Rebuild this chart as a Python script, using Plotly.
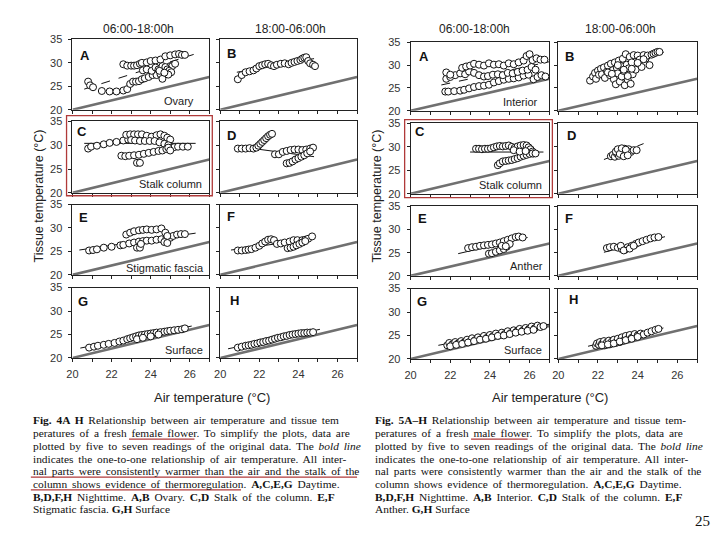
import plotly.graph_objects as go

# ---------------- values ----------------
AIR_TICKS = [20, 21, 22, 23, 24, 25, 26, 27]
AIR_TICK_LABELS = ["20", "", "22", "", "24", "", "26", ""]
TISSUE_TICKS = [20, 25, 30, 35]
TISSUE_TICK_LABELS = ["20", "25", "30", "35"]
ONE_TO_ONE_X = [20, 27]
ONE_TO_ONE_Y = [20, 27]

# Fig. 4 (female flower)
F_A_x = [20.8, 20.9, 21.05, 21.5, 21.9, 22.25, 22.6, 22.8, 22.95, 23.1, 23.25, 23.4, 23.55, 23.7, 23.9, 24.1, 24.3, 24.5, 24.6, 24.75, 24.9, 25.0, 25.1,
         22.6, 22.8, 23.0, 23.15, 23.3, 23.45, 23.55, 23.8, 24.0, 24.25, 24.5, 24.75, 25.0, 25.25, 25.45, 25.6, 25.75,
         23.6, 23.8, 24.05, 24.25, 24.4, 24.6, 24.75, 24.85, 24.95, 25.05, 24.45, 25.25, 24.9, 24.7]
F_A_y = [26.0, 25.2, 24.8, 24.0, 23.9, 23.9, 24.1, 24.4, 25.5, 26.0, 26.0, 26.1, 26.5, 26.7, 27.0, 27.4, 27.4, 27.6, 26.6, 28.3, 28.6, 29.3, 29.3,
         29.7, 29.4, 29.4, 29.4, 29.5, 29.8, 30.0, 30.1, 30.4, 30.5, 30.7, 31.4, 31.6, 31.8, 31.9, 31.7, 31.7,
         28.4, 28.6, 28.3, 29.0, 28.6, 29.3, 29.1, 28.6, 28.3, 28.0, 28.3, 29.8, 27.5, 27.9]
F_A_fit_x = [20.6, 26.2]
F_A_fit_y = [24.4, 31.8]

F_B_x = [20.9, 21.1, 21.3, 21.5, 21.7, 21.85, 22.0, 22.15, 22.3, 22.45, 22.6, 22.75, 22.9, 23.1, 23.3, 23.5, 23.65, 23.8, 23.95, 24.1, 24.2, 24.3, 24.4, 24.5, 24.6, 24.75, 24.85]
F_B_y = [26.5, 27.4, 28.0, 28.2, 28.4, 28.8, 29.3, 29.5, 29.7, 29.8, 29.5, 29.3, 29.6, 29.8, 29.9, 29.7, 30.0, 30.2, 30.4, 30.6, 30.9, 31.1, 31.2, 30.4, 29.9, 29.6, 29.3]
F_B_fit_x = [20.85, 24.8]
F_B_fit_y = [28.0, 30.9]

F_C_x = [20.8, 20.95, 21.25, 21.6, 21.9, 22.25, 22.6, 22.85,
         22.75, 22.95, 23.15, 23.35, 23.55, 23.8, 24.05, 24.3, 24.5, 24.7, 24.85, 25.0,
         23.0, 23.2, 23.45, 23.7, 23.95, 24.2, 24.45, 24.7, 24.9,
         22.5, 22.7, 22.9, 23.15, 23.4, 23.65, 23.9, 24.15, 24.4, 24.6, 24.8, 25.0, 25.2, 25.4, 25.65, 25.9,
         23.3, 23.45, 24.9, 25.0]
F_C_y = [29.3, 29.7, 29.9, 30.2, 30.5, 30.7, 31.0, 31.2,
         32.2, 32.3, 32.3, 32.3, 32.3, 32.0, 31.8, 32.1, 32.3, 32.0, 31.6, 31.2,
         31.1, 31.0, 30.9, 30.9, 30.9, 30.9, 30.6, 30.3, 30.0,
         27.8, 27.7, 27.8, 27.9, 28.0, 28.2, 28.4, 28.6, 28.8, 28.9, 29.2, 29.4, 29.6, 29.7, 29.7, 29.7,
         26.3, 26.3, 29.5, 28.9]
F_C_fit_x = [20.6, 26.3]
F_C_fit_y = [30.4, 30.4]

F_D_x = [20.9, 21.1, 21.3, 21.5, 21.7, 21.85, 21.95, 22.05, 22.15, 22.25, 22.35, 22.45, 22.55, 22.65,
         22.8, 23.0, 23.2, 23.4, 23.6, 23.8, 24.0, 24.2, 24.4, 24.6, 24.75,
         23.4, 23.55, 23.7, 23.85, 24.0, 24.15, 24.3, 24.45, 24.6]
F_D_y = [29.3, 29.3, 29.3, 29.4, 29.3, 29.5, 29.9, 30.3, 30.7, 31.1, 31.5, 31.9, 32.2, 32.4,
         28.1, 28.1, 28.6, 28.8, 29.0, 29.1, 29.1, 29.0, 29.1, 29.3, 29.5,
         26.2, 26.3, 26.6, 27.0, 27.3, 27.6, 27.9, 28.3, 28.7]
F_D_fit_x = [20.8, 24.8]
F_D_fit_y = [29.8, 27.6]

F_E_x = [20.85, 21.05, 21.25, 21.6, 22.0, 22.45, 22.6, 22.9, 23.15, 23.4, 23.6, 23.8, 24.05, 24.3, 24.55, 24.8, 25.0, 25.15, 25.35, 25.55, 25.75,
         22.75, 22.95, 23.15, 23.4, 23.6, 23.8, 24.05, 24.3, 24.55, 24.75, 24.85,
         23.3, 23.45, 23.5, 24.7, 24.85]
F_E_y = [25.2, 25.3, 25.45, 25.8, 26.0, 26.3, 26.4, 26.7, 26.9, 27.1, 27.2, 27.3, 27.3, 27.5, 27.6, 27.7, 27.9, 28.3, 28.6, 28.7, 28.7,
         28.6, 29.0, 29.3, 29.5, 29.6, 29.7, 29.6, 29.7, 29.9, 29.0, 28.3,
         25.8, 25.8, 26.6, 27.0, 26.8]
F_E_fit_x = [20.35, 26.3]
F_E_fit_y = [25.3, 28.9]

F_F_x = [20.9, 21.1, 21.3, 21.45, 21.6, 21.8, 22.0, 22.15, 22.3, 22.45, 22.6, 22.75, 22.9, 23.1, 23.3, 23.55, 23.75, 23.95, 24.2, 24.35, 24.5, 24.7,
         23.45, 23.6, 23.75, 23.9, 24.05, 24.2, 24.35]
F_F_y = [25.2, 25.2, 25.3, 25.4, 25.5, 25.8, 26.2, 26.7, 27.1, 27.5, 27.6, 27.4, 26.6, 26.7, 26.9, 27.1, 27.4, 27.4, 27.4, 27.5, 27.7, 28.2,
         25.7, 25.8, 26.0, 26.3, 26.6, 26.9, 27.2]
F_F_fit_x = [20.55, 24.75]
F_F_fit_y = [25.3, 27.7]

F_G_x = [20.85, 21.1, 21.3, 21.6, 21.85, 22.15, 22.4, 22.6, 22.8, 22.95, 23.1, 23.25, 23.4, 23.55, 23.7, 23.85, 24.0, 24.15, 24.3, 24.5, 24.7, 24.85, 25.0, 25.2, 25.4, 25.6, 25.75, 23.3, 23.6, 24.0, 24.4]
F_G_y = [22.2, 22.4, 22.6, 22.8, 23.0, 23.2, 23.5, 23.7, 24.0, 24.2, 24.4, 24.6, 24.8, 24.9, 25.0, 25.1, 25.2, 25.3, 25.4, 25.5, 25.6, 25.7, 25.8, 25.9, 26.0, 26.1, 26.3, 24.0, 24.3, 24.6, 25.0]
F_G_fit_x = [20.4, 26.1]
F_G_fit_y = [22.1, 26.8]

F_H_x = [20.9, 21.1, 21.3, 21.45, 21.6, 21.75, 21.9, 22.05, 22.2, 22.35, 22.5, 22.65, 22.8, 22.95, 23.1, 23.25, 23.4, 23.55, 23.7, 23.85, 24.0, 24.15, 24.3, 24.45, 24.6, 24.75]
F_H_y = [22.2, 22.4, 22.6, 22.7, 22.8, 23.0, 23.1, 23.3, 23.4, 23.6, 23.7, 23.9, 24.1, 24.3, 24.4, 24.6, 24.7, 24.9, 25.0, 25.1, 25.2, 25.3, 25.3, 25.4, 25.4, 25.5]
F_H_fit_x = [20.4, 25.1]
F_H_fit_y = [21.95, 26.1]

# Fig. 5 (male flower)
M_A_x = [21.75, 21.9, 22.2, 22.5, 22.7, 22.95, 23.2, 23.45, 23.7, 23.95, 24.2, 24.45, 24.7, 24.95, 25.2, 25.45, 25.7, 25.95, 26.2, 26.4, 26.6, 26.8,
         21.8, 22.0, 22.25, 22.5, 22.75, 22.95, 23.2, 23.45, 23.7, 23.9, 24.15, 24.4, 24.65, 24.9, 25.15, 25.4, 25.65, 25.9, 26.1, 26.3,
         21.8, 22.0, 22.6, 22.8, 23.0, 23.2, 23.45, 23.7, 23.95, 24.2, 24.45, 24.7, 24.95, 25.2, 25.45, 25.7, 25.85, 26.0, 26.15, 26.35, 26.55, 26.75]
M_A_y = [24.2, 24.2, 24.3, 24.4, 24.6, 24.9, 25.2, 25.4, 25.5, 25.7, 26.2, 26.5, 26.8, 27.0, 27.1, 27.3, 27.7, 27.9, 26.9, 27.4, 27.8, 27.5,
         27.0, 27.4, 27.8, 28.2, 28.0, 28.6, 28.3, 27.8, 27.5, 27.6, 27.9, 28.0, 27.8, 28.3, 28.2, 28.5, 28.8, 29.0, 29.6, 29.0,
         28.4, 27.9, 29.4, 29.7, 29.9, 30.3, 30.1, 29.9, 30.4, 30.1, 30.2, 29.9, 30.4, 30.2, 30.6, 31.0, 32.0, 32.4, 31.1, 31.5, 31.2, 31.2]
M_A_fit_x = [21.55, 27.0]
M_A_fit_y = [25.65, 30.75]

M_B_x = [21.6, 21.75, 21.85, 21.9, 22.0, 22.05, 22.15, 22.2, 22.3, 22.35, 22.45, 22.5, 22.6, 22.65, 22.75, 22.8, 22.85, 22.9, 22.95, 23.0,
         23.05, 23.1, 23.15, 23.2, 23.25, 23.3, 23.35, 23.4, 23.45, 23.5, 23.55, 23.6, 23.65, 23.7, 23.75, 23.8, 23.9, 24.0, 24.1, 24.2,
         24.3, 24.4, 24.5, 24.6, 24.7, 24.8, 24.9, 25.0, 25.1, 23.0, 23.3, 23.5, 23.7, 22.5, 22.7, 24.0, 24.3]
M_B_y = [26.6, 27.5, 28.3, 27.0, 28.8, 27.9, 29.2, 28.0, 29.5, 27.2, 28.6, 29.9, 27.8, 30.3, 28.9, 26.9, 30.6, 25.8, 29.4, 28.2,
         31.0, 26.4, 29.8, 27.5, 31.4, 28.7, 25.6, 32.4, 30.1, 26.8, 29.3, 31.8, 25.9, 30.6, 28.0, 32.2, 29.0, 32.1, 31.2, 29.6,
         32.2, 31.4, 32.1, 30.0, 32.3, 32.5, 32.7, 32.9, 32.9, 30.0, 29.0, 27.6, 29.2, 28.4, 28.1, 30.5, 31.3]
M_B_fit_x = [21.5, 25.6]
M_B_fit_y = [26.5, 33.3]

M_C_x = [23.3, 23.45, 23.6, 23.75, 23.9, 24.05, 24.2, 24.35, 24.5, 24.65, 24.8, 24.95, 25.1, 25.25, 25.4, 25.55, 25.7, 25.85, 25.95, 26.05, 26.15, 26.2,
         24.4, 24.5, 24.65, 24.8, 24.95, 25.1, 25.25, 25.4, 25.55, 25.7, 25.85, 26.0, 26.15, 26.3, 25.2, 25.5, 25.8]
M_C_y = [29.6, 29.6, 29.5, 29.6, 29.6, 29.7, 29.9, 30.1, 30.2, 30.1, 30.2, 30.3, 30.0, 29.8, 30.1, 30.3, 30.4, 30.3, 29.9, 29.5, 29.0, 28.6,
         26.1, 26.5, 26.9, 27.0, 27.1, 27.2, 27.4, 27.6, 27.9, 28.1, 28.3, 28.5, 28.6, 28.6, 29.3, 29.0, 29.1]
M_C_fit_x = [23.0, 26.7]
M_C_fit_y = [28.9, 28.9]

M_D_x = [22.65, 22.75, 22.85, 22.95, 23.05, 23.15, 23.25, 23.35, 23.45, 23.55, 23.65, 22.9, 23.0, 23.1, 23.2, 23.3, 23.4, 23.5, 23.8, 23.95]
M_D_y = [28.0, 28.3, 27.9, 28.6, 28.1, 29.3, 28.4, 29.6, 28.6, 29.5, 28.9, 29.0, 29.5, 28.5, 29.7, 28.0, 29.4, 28.2, 29.3, 29.3]
M_D_fit_x = [22.3, 24.3]
M_D_fit_y = [27.3, 30.7]

M_E_x = [22.9, 23.1, 23.3, 23.5, 23.7, 23.9, 24.1, 24.3, 24.5, 24.7, 24.9, 25.1, 25.3, 25.45, 25.65, 23.95, 24.1, 24.3, 24.5, 24.7, 24.85, 25.0, 24.6, 24.8]
M_E_y = [26.0, 26.2, 26.3, 26.5, 26.6, 26.7, 26.8, 27.0, 27.2, 27.5, 27.8, 28.1, 28.4, 28.5, 28.3, 24.8, 24.9, 25.2, 25.5, 25.8, 26.3, 26.9, 26.5, 26.4]
M_E_fit_x = [22.4, 25.9]
M_E_fit_y = [24.8, 28.3]

M_F_x = [22.45, 22.6, 22.8, 23.0, 23.2, 23.35, 23.5, 23.7, 23.9, 24.05, 24.25, 24.45, 24.65, 24.85, 25.05, 23.15, 23.3, 23.6, 23.8]
M_F_y = [26.0, 26.2, 26.3, 26.1, 25.8, 25.6, 26.2, 26.5, 26.9, 27.2, 27.5, 27.8, 28.1, 28.3, 28.4, 26.5, 25.5, 25.9, 26.5]
M_F_fit_x = [22.3, 25.5]
M_F_fit_y = [25.1, 28.6]

M_G_x = [21.85, 21.95, 22.1, 22.25, 22.4, 22.55, 22.7, 22.85, 23.0, 23.1, 23.25, 23.4, 23.55, 23.7, 23.85, 24.0, 24.15, 24.3, 24.45, 24.6,
         24.75, 24.9, 25.05, 25.2, 25.35, 25.5, 25.65, 25.8, 25.95, 26.1, 26.25, 26.4, 26.55, 26.7,
         22.0, 22.3, 22.6, 22.9, 23.2, 23.5, 23.8, 24.1, 24.4, 24.7, 25.0, 25.3, 25.6, 25.9, 26.2]
M_G_y = [22.9, 23.4, 23.1, 23.6, 23.3, 23.8, 23.5, 24.1, 23.7, 24.4, 24.0, 24.6, 24.2, 24.9, 24.5, 25.1, 24.8, 25.4, 25.0, 25.6,
         25.3, 25.9, 25.5, 26.1, 25.8, 26.4, 26.0, 26.6, 26.3, 26.9, 26.5, 27.1, 26.8, 27.0,
         22.7, 23.0, 23.2, 23.5, 23.8, 24.1, 24.3, 24.6, 24.9, 25.0, 25.3, 25.6, 25.8, 26.0, 26.2]
M_G_fit_x = [21.4, 27.0]
M_G_fit_y = [22.9, 27.4]

M_H_x = [21.9, 21.95, 22.05, 22.1, 22.2, 22.3, 22.35, 22.45, 22.55, 22.6, 22.7, 22.8, 22.9, 23.0, 23.1, 23.2, 23.3, 23.4,
         23.5, 23.6, 23.7, 23.85, 24.0, 24.15, 24.3, 24.5, 24.7, 24.9, 25.05, 22.2, 22.5, 22.8, 23.1, 23.4, 23.7, 24.0]
M_H_y = [22.8, 23.3, 23.0, 23.6, 23.2, 23.8, 22.9, 23.5, 23.9, 23.1, 23.7, 24.1, 23.4, 24.3, 23.6, 24.6, 23.9, 24.9,
         24.2, 25.1, 24.5, 25.3, 25.0, 25.4, 25.2, 25.6, 25.9, 26.2, 26.4, 22.9, 23.1, 23.3, 23.7, 24.0, 24.3, 24.7]
M_H_fit_x = [21.5, 25.3]
M_H_fit_y = [22.7, 26.6]

COL_TITLES = ["06:00-18:00h", "18:00-06:00h"]
Y_TITLE = "Tissue temperature (°C)"
X_TITLE = "Air temperature (°C)"
LETTERS = ["A", "B", "C", "D", "E", "F", "G", "H"]

CAPTION_F = [
    "<b>Fig. 4A H</b> Relationship between air temperature and tissue tem",
    "peratures of a fresh female flower. To simplify the plots, data are",
    "plotted by five to seven readings of the original data. The <i>bold line</i>",
    "indicates the one-to-one relationship of air temperature. All inter-",
    "nal parts were consistently warmer than the air and the stalk of the",
    "column shows evidence of thermoregulation. <b>A,C,E,G</b> Daytime.",
    "<b>B,D,F,H</b> Nighttime. <b>A,B</b> Ovary. <b>C,D</b> Stalk of the column. <b>E,F</b>",
    "Stigmatic fascia. <b>G,H</b> Surface",
]
CAPTION_M = [
    "<b>Fig. 5A–H</b> Relationship between air temperature and tissue tem-",
    "peratures of a fresh male flower. To simplify the plots, data are",
    "plotted by five to seven readings of the original data. The <i>bold line</i>",
    "indicates the one-to-one relationship of air temperature. All inter-",
    "nal parts were consistently warmer than the air and the stalk of the",
    "column shows evidence of thermoregulation. <b>A,C,E,G</b> Daytime.",
    "<b>B,D,F,H</b> Nighttime. <b>A,B</b> Interior. <b>C,D</b> Stalk of the column. <b>E,F</b>",
    "Anther. <b>G,H</b> Surface",
]
PAGE_NUMBER = "25"

# ---------------- layout (pixel geometry of the 720x540 page) ----------------
# the page body has an 8px margin, so the figure is 704x524 and page pixels are shifted
OFF = 8
FW, FH = 704, 524
def px(x):
    return (x - OFF) / FW
def py(y):
    return 1 - (y - OFF) / FH

SANS = "Liberation Sans, Arial, sans-serif"
SERIF = "Liberation Serif, Times New Roman, serif"
RED = "#b03a3a"

# panel boxes: (left, right) and (top, bottom) in page pixels
F_COLS = [(67, 205), (216, 354)]
F_ROWS = [(34, 106), (118, 191), (203, 275), (288, 360)]
M_COLS = [(408, 548), (557, 697)]
M_ROWS = [(37, 107), (120, 192), (205, 276), (289, 361)]

panels = [
    (F_A_x, F_A_y, F_A_fit_x, F_A_fit_y, "dash", F_COLS[0], F_ROWS[0], (80, 50), ("Ovary", 192, 97)),
    (F_B_x, F_B_y, F_B_fit_x, F_B_fit_y, "solid", F_COLS[1], F_ROWS[0], (227, 48), None),
    (F_C_x, F_C_y, F_C_fit_x, F_C_fit_y, "solid", F_COLS[0], F_ROWS[1], (77, 128), ("Stalk column", 200, 182)),
    (F_D_x, F_D_y, F_D_fit_x, F_D_fit_y, "solid", F_COLS[1], F_ROWS[1], (227, 132), None),
    (F_E_x, F_E_y, F_E_fit_x, F_E_fit_y, "solid", F_COLS[0], F_ROWS[2], (78, 216), ("Stigmatic fascia", 202, 268)),
    (F_F_x, F_F_y, F_F_fit_x, F_F_fit_y, "solid", F_COLS[1], F_ROWS[2], (227, 215), None),
    (F_G_x, F_G_y, F_G_fit_x, F_G_fit_y, "dash", F_COLS[0], F_ROWS[3], (78, 302), ("Surface", 201, 352)),
    (F_H_x, F_H_y, F_H_fit_x, F_H_fit_y, "dash", F_COLS[1], F_ROWS[3], (230, 301), None),
    (M_A_x, M_A_y, M_A_fit_x, M_A_fit_y, "dash", M_COLS[0], M_ROWS[0], (422, 51), ("Interior", 539, 98)),
    (M_B_x, M_B_y, M_B_fit_x, M_B_fit_y, "dash", M_COLS[1], M_ROWS[0], (568, 51), None),
    (M_C_x, M_C_y, M_C_fit_x, M_C_fit_y, "solid", M_COLS[0], M_ROWS[1], (417, 128), ("Stalk column", 543, 183)),
    (M_D_x, M_D_y, M_D_fit_x, M_D_fit_y, "dash", M_COLS[1], M_ROWS[1], (570, 132), None),
    (M_E_x, M_E_y, M_E_fit_x, M_E_fit_y, "solid", M_COLS[0], M_ROWS[2], (420, 217), ("Anther", 544, 266)),
    (M_F_x, M_F_y, M_F_fit_x, M_F_fit_y, "dash", M_COLS[1], M_ROWS[2], (568, 217), None),
    (M_G_x, M_G_y, M_G_fit_x, M_G_fit_y, "dash", M_COLS[0], M_ROWS[3], (420, 302), ("Surface", 543, 352)),
    (M_H_x, M_H_y, M_H_fit_x, M_H_fit_y, "dash", M_COLS[1], M_ROWS[3], (572, 300), None),
]

fig = go.Figure()
layout = {}
annotations = []
shapes = []

for i, (xs, ys, fx, fy, dash, col, row, letter_pos, label) in enumerate(panels):
    n = i + 1
    xa = "x" if n == 1 else f"x{n}"
    ya = "y" if n == 1 else f"y{n}"
    xkey = "xaxis" if n == 1 else f"xaxis{n}"
    ykey = "yaxis" if n == 1 else f"yaxis{n}"
    left_col = (i % 2 == 0)
    bottom_row = (row in (F_ROWS[3], M_ROWS[3]))
    layout[xkey] = dict(
        domain=[px(col[0]), px(col[1])], range=[20, 27], anchor=ya,
        tickmode="array", tickvals=AIR_TICKS,
        ticktext=AIR_TICK_LABELS if bottom_row else [""] * len(AIR_TICKS),
        ticks="outside", ticklen=3, tickwidth=1, tickcolor="#222",
        ticklabelstandoff=3,
        showline=True, linecolor="#222", linewidth=1, mirror=True,
        showgrid=False, zeroline=False, fixedrange=True,
        tickfont=dict(family=SANS, size=11, color="#333"),
    )
    layout[ykey] = dict(
        domain=[py(row[1]), py(row[0])], range=[20, 35], anchor=xa,
        tickmode="array", tickvals=TISSUE_TICKS,
        ticktext=TISSUE_TICK_LABELS if left_col else [""] * len(TISSUE_TICKS),
        ticks="outside", ticklen=3, tickwidth=1, tickcolor="#222",
        ticklabelstandoff=4,
        showline=True, linecolor="#222", linewidth=1, mirror=True,
        showgrid=False, zeroline=False, fixedrange=True,
        tickfont=dict(family=SANS, size=11, color="#333"),
    )
    # one-to-one bold line
    fig.add_trace(go.Scatter(x=ONE_TO_ONE_X, y=ONE_TO_ONE_Y, mode="lines", xaxis=xa, yaxis=ya,
                             line=dict(color="#707070", width=2.6), showlegend=False, hoverinfo="skip"))
    # regression line
    fig.add_trace(go.Scatter(x=fx, y=fy, mode="lines", xaxis=xa, yaxis=ya,
                             line=dict(color="#111", width=1, dash=dash), showlegend=False, hoverinfo="skip"))
    # data points
    fig.add_trace(go.Scatter(x=xs, y=ys, mode="markers", xaxis=xa, yaxis=ya,
                             marker=dict(symbol="circle", size=7, color="white",
                                         line=dict(color="#111", width=1)),
                             showlegend=False))
    annotations.append(dict(text="<b>%s</b>" % LETTERS[i % 8], x=px(letter_pos[0]), y=py(letter_pos[1]),
                            xref="paper", yref="paper", showarrow=False, xanchor="center", yanchor="middle",
                            font=dict(family=SANS, size=13, color="#111")))
    if label:
        annotations.append(dict(text=label[0], x=px(label[1]), y=py(label[2]), xref="paper", yref="paper",
                                showarrow=False, xanchor="right", yanchor="middle",
                                font=dict(family=SANS, size=11, color="#222")))

# column titles
for txt, x in zip(COL_TITLES * 2, [134, 287, 472, 620]):
    annotations.append(dict(text=txt, x=px(x), y=py(23), xref="paper", yref="paper", showarrow=False,
                            xanchor="center", yanchor="middle", font=dict(family=SANS, size=12, color="#222")))
# axis titles
for x in (33, 374):
    annotations.append(dict(text=Y_TITLE, x=px(x), y=py(194), xref="paper", yref="paper", showarrow=False,
                            textangle=-90, xanchor="center", yanchor="middle",
                            font=dict(family=SANS, size=12.5, color="#222")))
for x in (208, 549):
    annotations.append(dict(text=X_TITLE, x=px(x), y=py(400), xref="paper", yref="paper", showarrow=False,
                            xanchor="center", yanchor="middle", font=dict(family=SANS, size=13, color="#222")))

# captions (justified look via extra word spacing, last line left ragged)
LINE_Y = [424, 437, 450, 463, 476, 489, 502, 515]
for lines, x0 in ((CAPTION_F, 25), (CAPTION_M, 370)):
    for k, (txt, y) in enumerate(zip(lines, LINE_Y)):
        ws = 2 if k < len(lines) - 1 else 0
        annotations.append(dict(text='<span style="word-spacing:%dpx">%s</span>' % (ws, txt),
                                x=px(x0), y=py(y), xref="paper", yref="paper", showarrow=False,
                                xanchor="left", yanchor="middle",
                                font=dict(family=SERIF, size=11.4, color="#111")))
annotations.append(dict(text=PAGE_NUMBER, x=px(712), y=py(527), xref="paper", yref="paper", showarrow=False,
                        xanchor="right", yanchor="middle", font=dict(family=SERIF, size=15, color="#111")))

# red highlight boxes & underlines
for (x0, x1, y0, y1) in ((61, 208, 112, 194), (402, 551, 116, 196)):
    shapes.append(dict(type="rect", xref="paper", yref="paper", x0=px(x0), x1=px(x1), y0=py(y1), y1=py(y0),
                       line=dict(color=RED, width=1.3)))
for (x0, x1, y) in ((124, 190, 443), (25, 354, 482), (25, 237, 495), (469, 526, 443)):
    shapes.append(dict(type="line", xref="paper", yref="paper", x0=px(x0), x1=px(x1), y0=py(y), y1=py(y),
                       line=dict(color=RED, width=1.2)))

fig.update_layout(
    width=FW, height=FH, margin=dict(l=0, r=0, t=0, b=0),
    paper_bgcolor="white", plot_bgcolor="white",
    showlegend=False, annotations=annotations, shapes=shapes,
    **layout,
)

fig.write_html("out.html")
